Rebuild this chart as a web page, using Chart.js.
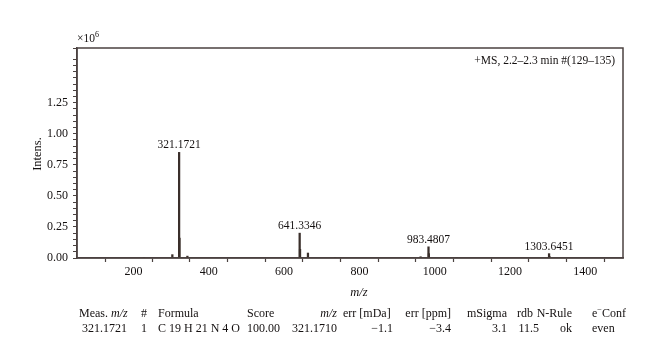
<!DOCTYPE html>
<html>
<head>
<meta charset="utf-8">
<script src="https://cdn.jsdelivr.net/npm/chart.js@4/dist/chart.umd.min.js"></script>
<style>
  html, body { margin: 0; padding: 0; background: #fff; }
  #wrap { width: 660px; height: 363px; position: relative; }
</style>
</head>
<body>
<div id="wrap"><canvas id="msChart"></canvas></div>
<script>
// Spectrum data (m/z, intensity in 10^6)
const peakMz = [227.9, 303.2, 321.1721, 322.18, 343.15, 641.3346, 642.34, 663.32, 735.4, 962.5, 983.4807, 984.49, 1057.5, 1303.6451, 1304.65];
const peakIntens = [0.005, 0.027, 0.85, 0.16, 0.015, 0.2, 0.07, 0.04, 0.004, 0.01, 0.09, 0.035, 0.004, 0.035, 0.012];

// Annotated peaks
const labelMz = [321.1721, 641.3346, 983.4807, 1303.6451];
const labelText = ["321.1721", "641.3346", "983.4807", "1303.6451"];

const yTickLabels = [0, 0.25, 0.5, 0.75, 1.0, 1.25];
const spectrumTitle = "+MS, 2.2\u20132.3 min #(129\u2013135)";

// Result table below the chart
const tableHeaders = ["Meas. |m/z|", "#", "Formula", "Score", "|m/z|", "err [mDa]", "err [ppm]", "mSigma", "rdb", "N-Rule", "e^\u2212^Conf"];
const tableValues = ["321.1721", "1", "C 19 H 21 N 4 O", "100.00", "321.1710", "\u22121.1", "\u22123.4", "3.1", "11.5", "ok", "even"];

const FONT = "'Liberation Serif', 'DejaVu Serif', serif";
const INK = "#141010";
const AXIS = "#4b4240";

// column positions: [headerX, headerAlign, valueX, valueAlign]
const cols = [
  [79, "left", 127, "right"],
  [144, "center", 144, "center"],
  [158, "left", 158, "left"],
  [247, "left", 247, "left"],
  [337, "right", 337, "right"],
  [343, "left", 393, "right"],
  [451, "right", 451, "right"],
  [507, "right", 507, "right"],
  [533, "right", 539, "right"],
  [572, "right", 572, "right"],
  [592, "left", 592, "left"],
];

// draw text where |..| is italic and ^..^ is superscript
function richText(ctx, str, x, y, align, size) {
  const parts = [];
  let mode = "n", buf = "";
  for (const ch of str) {
    if (ch === "|" || ch === "^") {
      if (buf) parts.push([buf, mode]);
      buf = "";
      const m = ch === "|" ? "i" : "s";
      mode = mode === m ? "n" : m;
    } else buf += ch;
  }
  if (buf) parts.push([buf, mode]);
  const fontFor = (m) => m === "i" ? `italic ${size}px ${FONT}` : m === "s" ? `${size * 0.7}px ${FONT}` : `${size}px ${FONT}`;
  let total = 0;
  parts.forEach(([t, m]) => { ctx.font = fontFor(m); total += ctx.measureText(t).width; });
  let cx = align === "left" ? x : align === "right" ? x - total : x - total / 2;
  ctx.textAlign = "left";
  parts.forEach(([t, m]) => {
    ctx.font = fontFor(m);
    ctx.fillText(t, cx, m === "s" ? y - size * 0.4 : y);
    cx += ctx.measureText(t).width;
  });
}

const annotations = {
  id: "annotations",
  afterDraw(chart) {
    const { ctx, chartArea, scales } = chart;
    ctx.save();
    // frame
    ctx.strokeStyle = AXIS;
    ctx.lineWidth = 1.5;
    ctx.strokeRect(chartArea.left, chartArea.top, chartArea.right - chartArea.left, chartArea.bottom - chartArea.top);

    ctx.fillStyle = INK;
    ctx.textBaseline = "alphabetic";

    // peak labels
    labelMz.forEach((mz, i) => {
      const idx = peakMz.indexOf(mz);
      const x = scales.x.getPixelForValue(mz);
      const y = scales.y.getPixelForValue(peakIntens[idx]);
      ctx.font = `11.5px ${FONT}`;
      ctx.textAlign = "center";
      ctx.fillText(labelText[i], x, y - 4);
    });

    // title in plot
    ctx.font = `11.5px ${FONT}`;
    ctx.textAlign = "right";
    ctx.fillText(spectrumTitle, chartArea.right - 8, chartArea.top + 16);

    // x10^6
    richText(ctx, "\u00d710^6^", chartArea.left, chartArea.top - 6, "left", 11.5);

    // axis titles
    ctx.save();
    ctx.translate(41, 154);
    ctx.rotate(-Math.PI / 2);
    ctx.font = `12.5px ${FONT}`;
    ctx.textAlign = "center";
    ctx.fillText("Intens.", 0, 0);
    ctx.restore();
    richText(ctx, "|m/z|", 359, 296, "center", 12.5);

    // table
    cols.forEach((c, i) => {
      richText(ctx, tableHeaders[i], c[0], 317, c[1], 12);
      richText(ctx, tableValues[i], c[2], 332, c[3], 12);
    });
    ctx.restore();
  },
};

const ctx = document.getElementById("msChart").getContext("2d");
new Chart(ctx, {
  type: "bar",
  data: {
    datasets: [{
      data: peakMz.map((mz, i) => ({ x: mz, y: peakIntens[i] })),
      backgroundColor: "#3a2f2b",
      barThickness: 1.6,
      borderWidth: 0,
    }],
  },
  options: {
    responsive: true,
    maintainAspectRatio: false,
    animation: false,
    layout: { padding: { left: 0, right: 37, top: 48, bottom: 83 } },
    plugins: { legend: { display: false }, tooltip: { enabled: false } },
    scales: {
      x: {
        type: "linear",
        min: 50,
        max: 1500,
        offset: false,
        afterFit: (s) => { s.height = 22; },
        border: { display: true, color: AXIS, width: 1.5 },
        grid: { drawOnChartArea: false, tickLength: 4, color: AXIS, tickWidth: 1.2 },
        ticks: {
          stepSize: 100,
          autoSkip: false,
          maxRotation: 0,
          padding: 3,
          color: INK,
          font: { family: FONT, size: 12 },
          callback: (v) => (v % 200 === 0 ? String(v) : ""),
        },
      },
      y: {
        min: 0,
        max: 1.69,
        afterFit: (s) => { s.width = 77; },
        border: { display: true, color: AXIS, width: 1.5 },
        grid: { drawOnChartArea: false, tickLength: 4, color: AXIS, tickWidth: 1 },
        ticks: {
          stepSize: 0.05,
          autoSkip: false,
          padding: 5,
          color: INK,
          font: { family: FONT, size: 12 },
          callback: (v) => {
            const hit = yTickLabels.find((t) => Math.abs(t - v) < 1e-6);
            return hit === undefined ? "" : hit.toFixed(2);
          },
        },
      },
    },
  },
  plugins: [annotations],
});
</script>
</body>
</html>
